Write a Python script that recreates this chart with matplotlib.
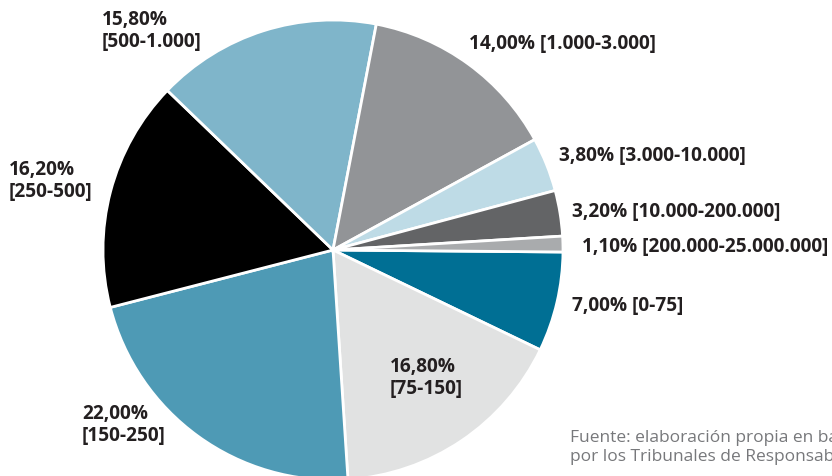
import matplotlib.pyplot as plt

# Datos del gráfico
rangos = ['[0-75]', '[75-150]', '[150-250]', '[250-500]', '[500-1.000]',
          '[1.000-3.000]', '[3.000-10.000]', '[10.000-200.000]', '[200.000-25.000.000]']
porcentajes = [7.0, 16.8, 22.0, 16.2, 15.8, 14.0, 3.8, 3.2, 1.1]
colores = ['#006f94', '#e1e2e2', '#4e9ab5', '#000000', '#7fb5ca',
           '#929497', '#bedbe6', '#636466', '#a9abad']

# Posición de cada etiqueta (px desde la izquierda, px desde arriba) y si va en dos líneas
pos_etiquetas = [(572, 306), (390, 378), (82, 425), (9, 181), (102, 31),
                 (469, 44), (559, 156), (572, 212), (582, 247)]
dos_lineas = [False, True, True, True, True, False, False, False, False]

W, H = 832, 477
fig = plt.figure(figsize=(W / 100, H / 100), dpi=100)
ax = fig.add_axes([0, 0, 1, 1])

ax.pie(porcentajes, colors=colores, startangle=-0.5, counterclock=False,
       center=(333, H - 251), radius=230,
       wedgeprops=dict(edgecolor='white', linewidth=2))
ax.set_xlim(0, W)
ax.set_ylim(0, H)
ax.set_aspect('equal', adjustable='datalim')
ax.axis('off')

for r, p, (x, y), dl in zip(rangos, porcentajes, pos_etiquetas, dos_lineas):
    txt = f'{p:.2f}%'.replace('.', ',')
    txt = txt + ('\n' if dl else ' ') + r
    ax.text(x, H - y, txt, ha='left', va='center', fontsize=13.7,
            fontfamily='Open Sans', fontweight='bold', color='#231f20',
            linespacing=1.18)

ax.text(570, H - 448, 'Fuente: elaboración propia en base a datos\npor los Tribunales de Responsabilidad',
        ha='left', va='center', fontsize=12.5, fontfamily='Open Sans', fontweight='normal',
        color='#77787b', linespacing=1.25, clip_on=False)

fig.savefig('out.png', dpi=100)
